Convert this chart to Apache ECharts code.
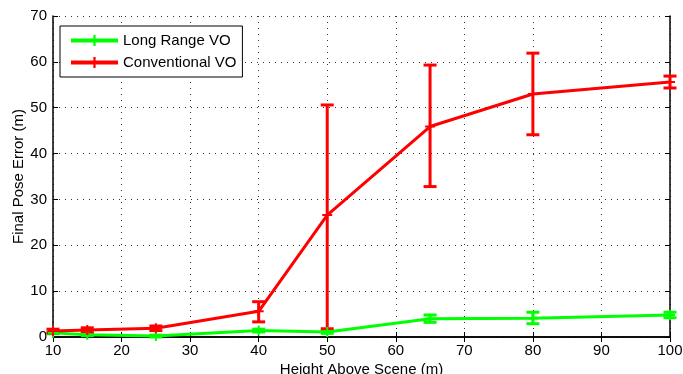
<!DOCTYPE html>
<html><head><meta charset="utf-8">
<script src="https://cdn.jsdelivr.net/npm/echarts@6/dist/echarts.min.js"></script>
<style>html,body{margin:0;padding:0;background:#fff}#c{width:683px;height:374px}</style>
</head><body><div id="c"></div>
<script>
const heights = [10, 15, 25, 40, 50, 65, 80, 100];
const longRangeMean = [0.9, 0.5, 0.2, 1.4, 1.1, 4.0, 4.1, 4.8];
const longRangeLow  = [0.7, 0.3, 0.0, 1.1, 0.8, 3.2, 2.9, 4.2];
const longRangeHigh = [1.1, 0.7, 0.4, 1.7, 1.4, 4.8, 5.4, 5.4];
const convMean = [1.3, 1.5, 1.9, 5.6, 26.6, 45.9, 53.0, 55.6];
const convLow  = [0.9, 1.0, 1.4, 3.3, 1.8, 32.8, 44.1, 54.3];
const convHigh = [1.7, 2.0, 2.4, 7.7, 50.6, 59.3, 61.9, 56.9];
const xTicks = [10, 20, 30, 40, 50, 60, 70, 80, 90, 100];
const yTicks = [0, 10, 20, 30, 40, 50, 60, 70];

const plus = 'path://M4,0h2v4h4v2h-4v4h-2v-4h-4v-2h4z';
const font = 'Liberation Sans';

function errSeries(name, color, low, high) {
  return {
    type: 'custom', name: name, z: 3,
    data: heights.map((h, i) => [h, low[i], high[i]]),
    renderItem: function (params, api) {
      const x = api.value(0);
      const lo = api.coord([x, api.value(1)]);
      const hi = api.coord([x, api.value(2)]);
      const w = 6.5;
      const st = {stroke: color, lineWidth: 3};
      return {type: 'group', children: [
        {type: 'line', shape: {x1: lo[0], y1: lo[1], x2: hi[0], y2: hi[1]}, style: st},
        {type: 'line', shape: {x1: lo[0]-w, y1: lo[1], x2: lo[0]+w, y2: lo[1]}, style: st},
        {type: 'line', shape: {x1: hi[0]-w, y1: hi[1], x2: hi[0]+w, y2: hi[1]}, style: st}
      ]};
    },
    encode: {x: 0, y: [1, 2]},
    silent: true
  };
}

const axisCommon = {
  axisLine: {show: true, lineStyle: {color: '#000', width: 1.5}},
  axisTick: {show: true, inside: true, length: 5, lineStyle: {color: '#000'}},
};

const chart = echarts.init(document.getElementById('c'));
chart.setOption({
  animation: false,
  grid: {left: 53, right: 13, top: 16, bottom: 37, outerBoundsMode: 'none', containLabel: false},
  legend: {
    left: 60, top: 26, orient: 'vertical',
    data: ['Long Range VO', 'Conventional VO'],
    backgroundColor: '#fff', borderColor: '#000', borderWidth: 1,
    padding: [7, 6, 7, 9], itemGap: 7, itemWidth: 47, itemHeight: 14,
    lineStyle: {width: 4},
    textStyle: {fontFamily: font, fontSize: 15, color: '#000'}
  },
  xAxis: [
    Object.assign({
      type: 'value', min: 10, max: 100, interval: 10,
      name: 'Height Above Scene (m)', nameLocation: 'middle', nameGap: 25,
      nameMoveOverlap: false,
      nameTextStyle: {fontFamily: font, fontSize: 15, color: '#000'},
      axisLabel: {fontFamily: font, fontSize: 15, color: '#000', margin: 6,
        customValues: xTicks},
      splitLine: {show: true, lineStyle: {color: '#333', type: [1, 5], width: 1}}
    }, axisCommon),
    Object.assign({
      type: 'value', min: 10, max: 100, interval: 10, position: 'top',
      axisLabel: {show: false}, splitLine: {show: false}
    }, axisCommon)
  ],
  yAxis: [
    Object.assign({
      type: 'value', min: 0, max: 70, interval: 10,
      name: 'Final Pose Error (m)', nameLocation: 'middle', nameGap: 27,
      nameMoveOverlap: false,
      nameTextStyle: {fontFamily: font, fontSize: 15, color: '#000'},
      axisLabel: {fontFamily: font, fontSize: 15, color: '#000', margin: 6,
        customValues: yTicks},
      splitLine: {show: true, lineStyle: {color: '#333', type: [1, 5], width: 1}}
    }, axisCommon),
    Object.assign({
      type: 'value', min: 0, max: 70, interval: 10, position: 'right',
      axisLabel: {show: false}, splitLine: {show: false}
    }, axisCommon)
  ],
  series: [
    {
      name: 'Long Range VO', type: 'line', z: 4,
      data: heights.map((h, i) => [h, longRangeMean[i]]),
      symbol: plus, symbolSize: 10, showAllSymbol: true,
      lineStyle: {color: '#00ff00', width: 3},
      itemStyle: {color: '#00ff00'}
    },
    {
      name: 'Conventional VO', type: 'line', z: 4,
      data: heights.map((h, i) => [h, convMean[i]]),
      symbol: plus, symbolSize: 10, showAllSymbol: true,
      lineStyle: {color: '#ff0000', width: 3},
      itemStyle: {color: '#ff0000'}
    },
    errSeries('lrErr', '#00ff00', longRangeLow, longRangeHigh),
    errSeries('convErr', '#ff0000', convLow, convHigh)
  ]
});
</script></body></html>
